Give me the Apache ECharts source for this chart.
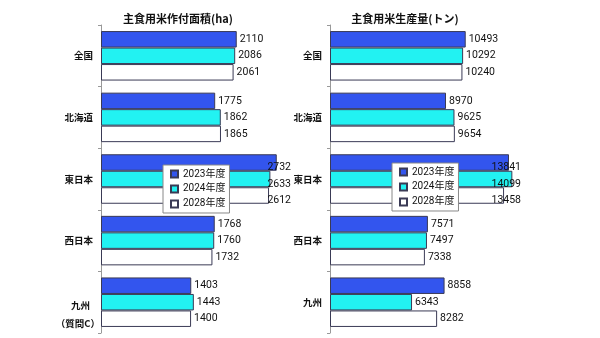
<!DOCTYPE html>
<html><head><meta charset="utf-8">
<script src="https://cdn.jsdelivr.net/npm/echarts@6/dist/echarts.min.js"></script>
<style>html,body{margin:0;padding:0;background:#fff}#c{width:600px;height:338px}</style>
</head><body><div id="c"></div>
<script>
const categories = ['全国','北海道','東日本','西日本','九州'];
const seriesNames = ['2023年度','2024年度','2028年度'];
const area2023 = [2110,1775,2732,1768,1403];
const area2024 = [2086,1862,2633,1760,1443];
const area2028 = [2061,1865,2612,1732,1400];
const prod2023 = [10493,8970,13841,7571,8858];
const prod2024 = [10292,9625,14099,7497,6343];
const prod2028 = [10240,9654,13458,7338,8282];
const titles = ['主食用米作付面積(ha)','主食用米生産量(トン)'];

const colors = ['#3355ee','#22f2f2','#ffffff'];
const JP = "'Noto Sans CJK JP', sans-serif";
const NUM = "Roboto, 'Noto Sans CJK JP', sans-serif";
const grids = [{left:101, top:25, width:193, height:308},{left:330, top:25, width:194, height:308}];

const chart = echarts.init(document.getElementById('c'));
const lab = {fontSize:9.5, fontWeight:'bold', fontFamily:JP, color:'#111'};
function yAx(gi, kyushuLabel){
  return {
    type:'category', gridIndex:gi, data:categories, inverse:true,
    axisLine:{lineStyle:{color:'#999'}},
    axisTick:{show:true, length:3, lineStyle:{color:'#999'}},
    axisLabel:{
      margin:8, fontSize:9.5, fontWeight:'bold', color:'#111', fontFamily:JP,
      formatter: v => (v==='九州' && kyushuLabel) ? '{s| }\n{a|九州}\n{b|（質問C）}' : v,
      rich:{
        s:Object.assign({lineHeight:24}, lab),
        a:Object.assign({lineHeight:18, padding:[0,3,0,0]}, lab),
        b:Object.assign({lineHeight:18, padding:[0,-7,0,0]}, lab)
      }
    }
  };
}
function mk(name, data, gi, ci){
  const limit = grids[gi].left + grids[gi].width - 3;
  return {
    name, type:'bar', xAxisIndex:gi, yAxisIndex:gi, data,
    barWidth:16.5, barGap:'0%',
    itemStyle:{color:colors[ci], borderColor:'#3a3a55', borderWidth:1},
    label:{show:true, position:'right', distance:3, fontSize:10.5, color:'#111', fontFamily:NUM},
    labelLayout: p => {
      const r = p.labelRect;
      if (r.x + r.width > limit) return {x: limit - r.width};
      return {};
    },
    emphasis:{disabled:true}
  };
}
const legendBase = {
  orient:'vertical', data:seriesNames, icon:'rect', itemWidth:7, itemHeight:7,
  itemGap:5, padding:[4,4,4,7], backgroundColor:'#fff', borderColor:'#888', borderWidth:1,
  textStyle:{fontSize:10, color:'#111', fontFamily:NUM}, selectedMode:false
};
chart.setOption({
  animation:false,
  title:[
    {text:titles[0], left:173, top:8, textAlign:'center', textStyle:{fontSize:11, fontWeight:'bold', color:'#111', fontFamily:JP}},
    {text:titles[1], left:400, top:8, textAlign:'center', textStyle:{fontSize:11, fontWeight:'bold', color:'#111', fontFamily:JP}}
  ],
  legend:[
    Object.assign({left:163, top:165}, legendBase),
    Object.assign({left:392, top:163}, legendBase)
  ],
  grid:grids,
  xAxis:[
    {type:'value', gridIndex:0, min:0, max:3000, show:false},
    {type:'value', gridIndex:1, min:0, max:15000, show:false}
  ],
  yAxis:[yAx(0,true), yAx(1,false)],
  series:[
    mk(seriesNames[0], area2023, 0, 0),
    mk(seriesNames[1], area2024, 0, 1),
    mk(seriesNames[2], area2028, 0, 2),
    mk(seriesNames[0], prod2023, 1, 0),
    mk(seriesNames[1], prod2024, 1, 1),
    mk(seriesNames[2], prod2028, 1, 2)
  ]
});
</script></body></html>
